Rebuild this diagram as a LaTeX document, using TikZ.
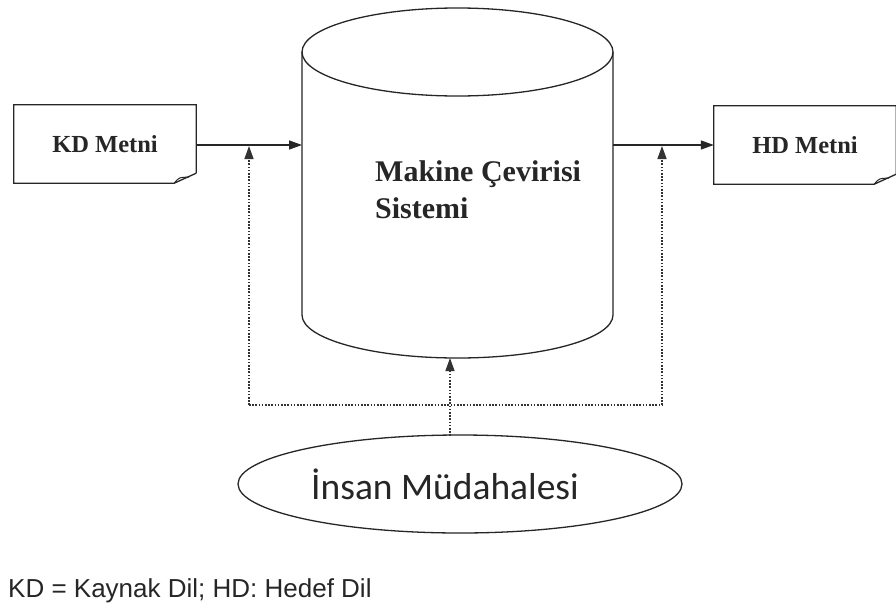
\documentclass[tikz,border=0pt]{standalone}
\usepackage{fontspec}
\setmainfont{Liberation Serif}
\newfontfamily\footfont{Liberation Sans}
\newfontfamily\calfont{Carlito}
\usetikzlibrary{shapes.geometric,arrows.meta}
\begin{document}
\begin{tikzpicture}[x=1pt,y=-1pt,
  ln/.style={line width=1.3pt, draw=black!85},
  arr/.style={ln, -{Triangle[length=13pt,width=9pt]}},
  dotarr/.style={line width=1.4pt, draw=black!80, dash pattern=on 1.6pt off 1.6pt, -{Triangle[length=13pt,width=9pt]}},
  dotln/.style={line width=1.4pt, draw=black!80, dash pattern=on 1.6pt off 1.6pt},
  docbox/.style={minimum width=182pt, minimum height=78pt, inner sep=0pt, font=\fontsize{24.5}{28}\selectfont\bfseries, text=black!85},
]
\useasboundingbox[fill=white] (0,0) rectangle (896,608);

% documents
\node[docbox] (kd) at (105,144) {KD Metni};
\node[docbox] (hd) at (805,145) {HD Metni};
\foreach \n in {kd,hd}{
  \draw[ln] ([yshift=10pt]\n.south east) -- (\n.north east) -- (\n.north west) -- (\n.south west) -- ([xshift=-22pt]\n.south east)
     -- ([yshift=10pt]\n.south east);
  \draw[ln, line width=1pt] ([xshift=-22pt]\n.south east) .. controls ([xshift=-17pt,yshift=6pt]\n.south east) .. ([xshift=-7pt,yshift=6pt]\n.south east);
}

% cylinder
\draw[ln, fill=white] (302,52) -- (302,315) arc[start angle=180, end angle=0, x radius=155.5, y radius=43] -- (613,52);
\draw[ln] (457.5,52) ellipse [x radius=155.5, y radius=44];
\coordinate (cylL) at (302,145);
\coordinate (cylR) at (613,145);
\coordinate (cylB) at (450,358);
\node[anchor=north west, inner sep=0pt, align=left, font=\fontsize{30}{37}\selectfont\bfseries, text=black!85] (mcs) at (375,160) {Makine Çevirisi\\Sistemi};

% human intervention
\node[ellipse, ln, minimum width=444pt, minimum height=98pt, inner sep=0pt] (ins) at (460,484) {};
\node[inner sep=0pt, font=\calfont\fontsize{37.5}{42}\selectfont, text=black!85] (instext) at (445,484) {İnsan Müdahalesi};

% solid arrows
\draw[arr] (kd.east |- cylL) -- (cylL);
\draw[arr] (cylR) -- (hd.west |- cylR);

% dotted feedback
\coordinate (dl) at (249,405);
\coordinate (dr) at (662,405);
\coordinate (al) at (249,146);
\coordinate (ar) at (662,146);
\coordinate (insTop) at (450,436);
\draw[dotln] (dl) -- (dr);
\draw[dotarr] (dl) -- (al);
\draw[dotarr] (dr) -- (ar);
\draw[dotarr] (insTop) -- (cylB);

% footer
\node[anchor=base west, inner sep=0pt, font=\footfont\fontsize{26}{30}\selectfont, text=black!85] (foot) at (8,597) {KD = Kaynak Dil; HD: Hedef Dil};
\end{tikzpicture}
\end{document}
